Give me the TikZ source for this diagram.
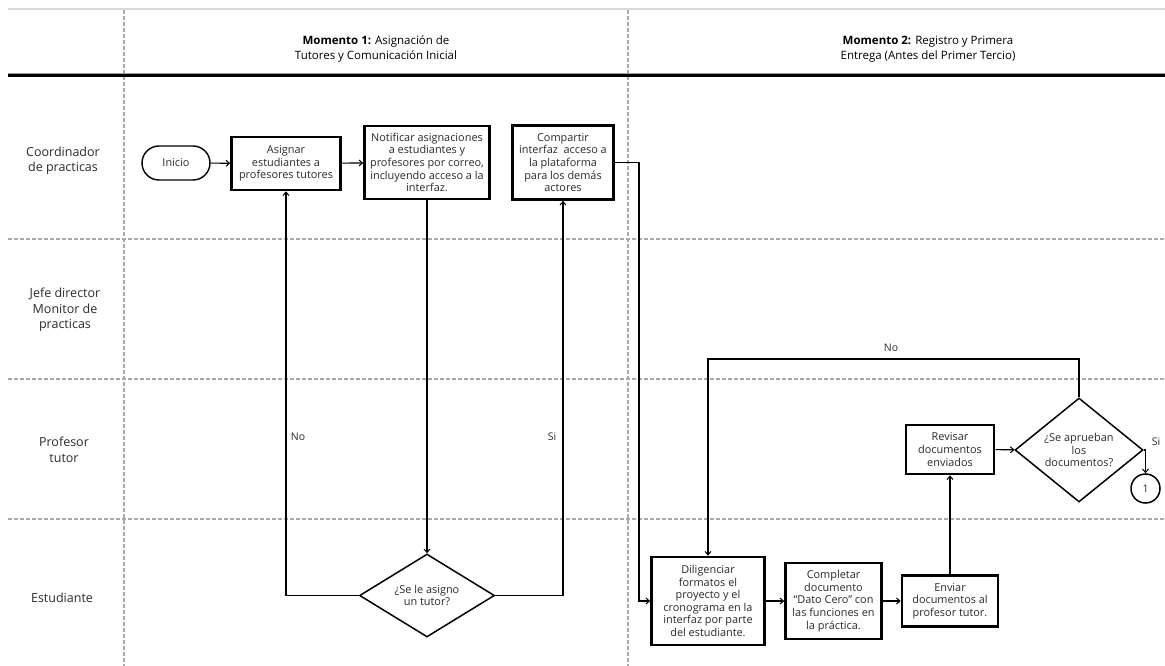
\documentclass[tikz,border=0pt]{standalone}
\usepackage{fontspec}
\setmainfont{Open Sans}
\usetikzlibrary{shapes.geometric,arrows.meta}
\definecolor{txt}{HTML}{2B2B2B}
\definecolor{lanegray}{HTML}{AAAAAA}
\begin{document}
\begin{tikzpicture}[x=1pt,y=-1pt,
  box/.style={draw, line width=2.6pt, align=center, inner sep=0pt, text=txt,
    font=\fontsize{10.9}{12.6}\selectfont},
  dec/.style={draw, diamond, line width=1.5pt, align=center, inner sep=0pt, text=txt,
    font=\fontsize{10.9}{12.6}\selectfont},
  term/.style={draw, line width=1.4pt, rounded corners=17pt, align=center, text=txt,
    font=\fontsize{10.9}{12.6}\selectfont},
  lanelbl/.style={align=center, text=txt, font=\fontsize{12.5}{15.5}\selectfont},
  headlbl/.style={align=center, text=black, font=\fontsize{11.5}{14.5}\selectfont},
  lbl/.style={text=txt, font=\fontsize{10.5}{12}\selectfont, inner sep=1pt},
  arr/.style={draw, line width=1.1pt, -{Straight Barb[length=3.5pt,width=6pt,line width=1pt]}},
  lane/.style={draw=lanegray, line width=1.1pt, dash pattern=on 4pt off 2pt}
]
\useasboundingbox (0,0) rectangle (1165,666);
\fill[white] (0,0) rectangle (1165,666);

% grid
\draw[draw=black!15, line width=2pt] (8,9) -- (1165,9);
\draw[lane] (124,10) -- (124,666);
\draw[lane] (628,10) -- (628,666);
\draw[draw=black!40, line width=1pt] (8,73.5) -- (1165,73.5);
\draw[draw=black, line width=3pt] (8,76) -- (1165,76);
\draw[lane] (8,239) -- (1165,239);
\draw[lane] (8,379) -- (1165,379);
\draw[lane] (8,519) -- (1165,519);

% headers
\node[headlbl] (h1) at (376,49) {\textbf{Momento 1:} Asignación de\\Tutores y Comunicación Inicial};
\node[headlbl] (h2) at (928,49) {\textbf{Momento 2:} Registro y Primera\\Entrega (Antes del Primer Tercio)};

% lane labels
\node[lanelbl] (l1) at (63,161) {Coordinador\\de practicas};
\node[lanelbl] (l2) at (65,310) {Jefe director\\Monitor de\\practicas};
\node[lanelbl] (l3) at (64,450) {Profesor\\tutor};
\node[lanelbl] (l4) at (62,598) {Estudiante};

% nodes
\node[term, minimum width=68pt, minimum height=34pt] (ini) at (176,163) {Inicio};
\node[box, minimum width=109pt, minimum height=53pt] (asig) at (286,163.5) {Asignar\\estudiantes a\\profesores tutores};
\node[box, minimum width=125pt, minimum height=73pt] (notif) at (427,162.5) {Notificar asignaciones\\a estudiantes y\\profesores por correo,\\incluyendo acceso a la\\interfaz.};
\node[box, minimum width=101pt, minimum height=74pt] (comp) at (563,162.5) {Compartir\\interfaz\ \ acceso a\\la plataforma\\para los demás\\actores};
\node[dec, minimum width=135pt, minimum height=83pt, aspect=1.63] (d1) at (427,595.5) {¿Se le asigno\\un tutor?};

\node[box, minimum width=113pt, minimum height=88pt] (dil) at (708,601) {Diligenciar\\formatos el\\proyecto y el\\cronograma en la\\interfaz por parte\\del estudiante.};
\node[box, minimum width=96pt, minimum height=76pt] (cmp) at (833.5,601) {Completar\\documento\\“Dato Cero” con\\las funciones en\\la práctica.};
\node[box, minimum width=96pt, minimum height=51pt] (env) at (950,601) {Enviar\\documentos al\\profesor tutor.};
\node[box, minimum width=88pt, minimum height=49pt] (rev) at (950,449.5) {Revisar\\documentos\\enviados};
\node[dec, minimum width=128pt, minimum height=104pt, aspect=1.23] (d2) at (1079,450) {¿Se aprueban\\los\\documentos?};
\node[draw, circle, line width=1.5pt, minimum size=29pt, inner sep=0pt, text=txt,
  font=\fontsize{10.5}{12}\selectfont] (c1) at (1145.5,488.5) {1};

% coordinates
\coordinate (k1) at (639,162.5);
\coordinate (k2) at (1079,359);

% connectors
\draw[arr] (ini) -- (asig);
\draw[arr] (asig) -- (notif);
\draw[arr] (notif) -- (d1);
\draw[arr] (d1.west) -| (asig.south);
\draw[arr] (d1.east) -| (comp.south);
\draw[arr] (comp.east) -- (k1) |- (dil.west);
\draw[arr] (dil) -- (cmp);
\draw[arr] (cmp) -- (env);
\draw[arr] (env) -- (rev);
\draw[arr] (rev) -- (d2);
\draw[arr] (d2.east) -| (c1.north);
\draw[arr] (d2.north) -- (k2) -| (dil.north);

% labels
\node[lbl] (no1) at (298,437) {No};
\node[lbl] (si1) at (552,437) {Si};
\node[lbl] (no2) at (891,348) {No};
\node[lbl] (si2) at (1156,442) {Si};
\end{tikzpicture}
\end{document}
